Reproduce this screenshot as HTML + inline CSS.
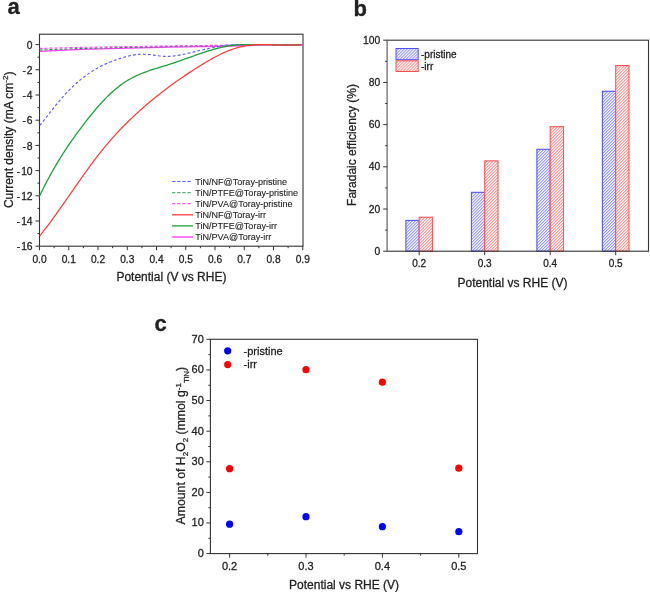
<!DOCTYPE html>
<html><head><meta charset="utf-8"><style>
html,body{margin:0;padding:0;background:#fff;width:650px;height:592px;overflow:hidden}
svg{display:block;font-family:"Liberation Sans", sans-serif;fill:#222;will-change:transform}
text{fill:#222;stroke:#222;stroke-width:0.28px}
</style></head><body>
<svg width="650" height="592" viewBox="0 0 650 592">
<rect x="39.5" y="34.2" width="263.5" height="212.0" fill="none" stroke="#333" stroke-width="1.1"/>
<line x1="35.5" y1="44.60" x2="39.5" y2="44.60" stroke="#333" stroke-width="1"/>
<text x="32.6" y="48.70" font-size="10.3" text-anchor="end" font-weight="normal" >0</text>
<line x1="37.5" y1="57.20" x2="39.5" y2="57.20" stroke="#333" stroke-width="1"/>
<line x1="35.5" y1="69.80" x2="39.5" y2="69.80" stroke="#333" stroke-width="1"/>
<text x="32.6" y="73.90" font-size="10.3" text-anchor="end">-<tspan dx="0.9">2</tspan></text>
<line x1="37.5" y1="82.40" x2="39.5" y2="82.40" stroke="#333" stroke-width="1"/>
<line x1="35.5" y1="95.00" x2="39.5" y2="95.00" stroke="#333" stroke-width="1"/>
<text x="32.6" y="99.10" font-size="10.3" text-anchor="end">-<tspan dx="0.9">4</tspan></text>
<line x1="37.5" y1="107.60" x2="39.5" y2="107.60" stroke="#333" stroke-width="1"/>
<line x1="35.5" y1="120.20" x2="39.5" y2="120.20" stroke="#333" stroke-width="1"/>
<text x="32.6" y="124.30" font-size="10.3" text-anchor="end">-<tspan dx="0.9">6</tspan></text>
<line x1="37.5" y1="132.80" x2="39.5" y2="132.80" stroke="#333" stroke-width="1"/>
<line x1="35.5" y1="145.40" x2="39.5" y2="145.40" stroke="#333" stroke-width="1"/>
<text x="32.6" y="149.50" font-size="10.3" text-anchor="end">-<tspan dx="0.9">8</tspan></text>
<line x1="37.5" y1="158.00" x2="39.5" y2="158.00" stroke="#333" stroke-width="1"/>
<line x1="35.5" y1="170.60" x2="39.5" y2="170.60" stroke="#333" stroke-width="1"/>
<text x="32.6" y="174.70" font-size="10.3" text-anchor="end">-<tspan dx="0.9">10</tspan></text>
<line x1="37.5" y1="183.20" x2="39.5" y2="183.20" stroke="#333" stroke-width="1"/>
<line x1="35.5" y1="195.80" x2="39.5" y2="195.80" stroke="#333" stroke-width="1"/>
<text x="32.6" y="199.90" font-size="10.3" text-anchor="end">-<tspan dx="0.9">12</tspan></text>
<line x1="37.5" y1="208.40" x2="39.5" y2="208.40" stroke="#333" stroke-width="1"/>
<line x1="35.5" y1="221.00" x2="39.5" y2="221.00" stroke="#333" stroke-width="1"/>
<text x="32.6" y="225.10" font-size="10.3" text-anchor="end">-<tspan dx="0.9">14</tspan></text>
<line x1="37.5" y1="233.60" x2="39.5" y2="233.60" stroke="#333" stroke-width="1"/>
<line x1="35.5" y1="246.20" x2="39.5" y2="246.20" stroke="#333" stroke-width="1"/>
<text x="32.6" y="250.30" font-size="10.3" text-anchor="end">-<tspan dx="0.9">16</tspan></text>
<line x1="39.50" y1="246.2" x2="39.50" y2="250.2" stroke="#333" stroke-width="1"/>
<text x="39.50" y="262.6" font-size="10.2" text-anchor="middle" font-weight="normal" >0.0</text>
<line x1="54.12" y1="246.2" x2="54.12" y2="248.2" stroke="#333" stroke-width="1"/>
<line x1="68.75" y1="246.2" x2="68.75" y2="250.2" stroke="#333" stroke-width="1"/>
<text x="68.75" y="262.6" font-size="10.2" text-anchor="middle" font-weight="normal" >0.1</text>
<line x1="83.38" y1="246.2" x2="83.38" y2="248.2" stroke="#333" stroke-width="1"/>
<line x1="98.00" y1="246.2" x2="98.00" y2="250.2" stroke="#333" stroke-width="1"/>
<text x="98.00" y="262.6" font-size="10.2" text-anchor="middle" font-weight="normal" >0.2</text>
<line x1="112.62" y1="246.2" x2="112.62" y2="248.2" stroke="#333" stroke-width="1"/>
<line x1="127.25" y1="246.2" x2="127.25" y2="250.2" stroke="#333" stroke-width="1"/>
<text x="127.25" y="262.6" font-size="10.2" text-anchor="middle" font-weight="normal" >0.3</text>
<line x1="141.88" y1="246.2" x2="141.88" y2="248.2" stroke="#333" stroke-width="1"/>
<line x1="156.50" y1="246.2" x2="156.50" y2="250.2" stroke="#333" stroke-width="1"/>
<text x="156.50" y="262.6" font-size="10.2" text-anchor="middle" font-weight="normal" >0.4</text>
<line x1="171.12" y1="246.2" x2="171.12" y2="248.2" stroke="#333" stroke-width="1"/>
<line x1="185.75" y1="246.2" x2="185.75" y2="250.2" stroke="#333" stroke-width="1"/>
<text x="185.75" y="262.6" font-size="10.2" text-anchor="middle" font-weight="normal" >0.5</text>
<line x1="200.38" y1="246.2" x2="200.38" y2="248.2" stroke="#333" stroke-width="1"/>
<line x1="215.00" y1="246.2" x2="215.00" y2="250.2" stroke="#333" stroke-width="1"/>
<text x="215.00" y="262.6" font-size="10.2" text-anchor="middle" font-weight="normal" >0.6</text>
<line x1="229.62" y1="246.2" x2="229.62" y2="248.2" stroke="#333" stroke-width="1"/>
<line x1="244.25" y1="246.2" x2="244.25" y2="250.2" stroke="#333" stroke-width="1"/>
<text x="244.25" y="262.6" font-size="10.2" text-anchor="middle" font-weight="normal" >0.7</text>
<line x1="258.88" y1="246.2" x2="258.88" y2="248.2" stroke="#333" stroke-width="1"/>
<line x1="273.50" y1="246.2" x2="273.50" y2="250.2" stroke="#333" stroke-width="1"/>
<text x="273.50" y="262.6" font-size="10.2" text-anchor="middle" font-weight="normal" >0.8</text>
<line x1="288.12" y1="246.2" x2="288.12" y2="248.2" stroke="#333" stroke-width="1"/>
<line x1="302.75" y1="246.2" x2="302.75" y2="250.2" stroke="#333" stroke-width="1"/>
<text x="302.75" y="262.6" font-size="10.2" text-anchor="middle" font-weight="normal" >0.9</text>
<text x="171.4" y="281.2" font-size="12" text-anchor="middle" font-weight="normal" >Potential (V vs RHE)</text>
<text transform="translate(12.8,139.8) rotate(-90)" font-size="12" text-anchor="middle">Current density (mA cm<tspan font-size="8" dy="-4.5">-2</tspan><tspan dy="4.5">)</tspan></text>
<text x="7.5" y="14.3" font-size="22" text-anchor="start" font-weight="bold" >a</text>
<g fill="none">
<path d="M39.60,51.40 C48.00,51.02 68.27,49.80 90.00,49.10 C111.73,48.40 148.50,47.65 170.00,47.20 C191.50,46.75 205.67,46.68 219.00,46.40 C232.33,46.12 242.33,45.75 250.00,45.50 C257.67,45.25 256.17,45.03 265.00,44.90 C273.83,44.77 296.67,44.73 303.00,44.70" stroke="#ff3cff" stroke-width="1.3"/>
<path d="M39.60,50.00 C48.00,49.72 68.27,48.88 90.00,48.30 C111.73,47.72 147.50,46.98 170.00,46.50 C192.50,46.02 211.67,45.68 225.00,45.40 C238.33,45.12 237.00,44.92 250.00,44.80 C263.00,44.68 294.17,44.72 303.00,44.70" stroke="#2f8f4f" stroke-width="1.1" stroke-dasharray="3,2"/>
<path d="M39.60,48.40 C48.00,48.20 68.27,47.60 90.00,47.20 C111.73,46.80 147.50,46.33 170.00,46.00 C192.50,45.67 211.67,45.40 225.00,45.20 C238.33,45.00 237.00,44.88 250.00,44.80 C263.00,44.72 294.17,44.72 303.00,44.70" stroke="#ff44ff" stroke-width="1.1" stroke-dasharray="3,2"/>
<path d="M39.80,125.49 L41.30,123.62 L42.80,121.74 L44.30,119.83 L45.80,117.92 L47.30,116.01 L48.80,114.09 L50.30,112.17 L51.80,110.27 L53.30,108.37 L54.80,106.50 L56.30,104.65 L57.80,102.82 L59.30,101.03 L60.80,99.27 L62.30,97.55 L63.80,95.87 L65.30,94.23 L66.80,92.62 L68.30,91.06 L69.80,89.53 L71.30,88.04 L72.80,86.59 L74.30,85.18 L75.80,83.80 L77.30,82.46 L78.80,81.16 L80.30,79.90 L81.80,78.67 L83.30,77.49 L84.80,76.33 L86.30,75.22 L87.80,74.14 L89.30,73.10 L90.80,72.09 L92.30,71.13 L93.80,70.19 L95.30,69.29 L96.80,68.42 L98.30,67.59 L99.80,66.79 L101.30,66.01 L102.80,65.27 L104.30,64.55 L105.80,63.86 L107.30,63.19 L108.80,62.55 L110.30,61.94 L111.80,61.34 L113.30,60.77 L114.80,60.22 L116.30,59.69 L117.80,59.18 L119.30,58.68 L120.80,58.21 L122.30,57.75 L123.80,57.30 L125.30,56.88 L126.80,56.49 L128.30,56.12 L129.80,55.77 L131.30,55.45 L132.80,55.17 L134.30,54.91 L135.80,54.69 L137.30,54.51 L138.80,54.37 L140.30,54.26 L141.80,54.20 L143.30,54.18 L144.80,54.20 L146.30,54.28 L147.80,54.39 L149.30,54.54 L150.80,54.72 L152.30,54.91 L153.80,55.12 L155.30,55.34 L156.80,55.55 L158.30,55.76 L159.80,55.95 L161.30,56.11 L162.80,56.25 L164.30,56.35 L165.80,56.40 L167.30,56.41 L168.80,56.37 L170.30,56.29 L171.80,56.18 L173.30,56.03 L174.80,55.85 L176.30,55.64 L177.80,55.40 L179.30,55.15 L180.80,54.87 L182.30,54.57 L183.80,54.26 L185.30,53.94 L186.80,53.61 L188.30,53.28 L189.80,52.93 L191.30,52.58 L192.80,52.23 L194.30,51.87 L195.80,51.52 L197.30,51.16 L198.80,50.80 L200.30,50.44 L201.80,50.09 L203.30,49.73 L204.80,49.39 L206.30,49.04 L207.80,48.71 L209.30,48.38 L210.80,48.06 L212.30,47.76 L213.80,47.46 L215.30,47.17 L216.80,46.90 L218.30,46.64 L219.80,46.40 L221.30,46.18 L222.80,45.97 L224.30,45.78 L225.80,45.60 L227.30,45.43 L228.80,45.29 L230.30,45.15 L231.80,45.03 L233.30,44.92 L234.80,44.82 L236.30,44.74 L237.80,44.70 L239.30,44.70 L240.80,44.70 L242.30,44.70 L243.80,44.70 L245.30,44.70 L246.80,44.70 L248.30,44.70 L249.80,44.70 L251.30,44.70 L252.80,44.70 L254.30,44.70 L255.80,44.70 L257.30,44.70 L258.80,44.70 L260.30,44.70 L261.80,44.70 L263.30,44.70 L264.80,44.70 L266.30,44.70 L267.80,44.71 L269.30,44.75 L270.80,44.79 L272.30,44.83 L273.80,44.87 L275.30,44.90 L276.80,44.94 L278.30,44.97 L279.80,44.99 L281.30,45.02 L282.80,45.04 L284.30,45.05 L285.80,45.06 L287.30,45.06 L288.80,45.06 L290.30,45.05 L291.80,45.03 L293.30,45.01 L294.80,44.97 L296.30,44.93 L297.80,44.88 L299.30,44.81 L300.80,44.74 L302.30,44.70" stroke="#5a5aff" stroke-width="1.15" stroke-dasharray="2.8,2.2"/>
<path d="M39.60,195.96 L41.10,192.84 L42.60,189.79 L44.10,186.81 L45.60,183.88 L47.10,181.01 L48.60,178.19 L50.10,175.43 L51.60,172.73 L53.10,170.07 L54.60,167.46 L56.10,164.90 L57.60,162.39 L59.10,159.92 L60.60,157.50 L62.10,155.11 L63.60,152.76 L65.10,150.46 L66.60,148.18 L68.10,145.94 L69.60,143.74 L71.10,141.56 L72.60,139.42 L74.10,137.30 L75.60,135.20 L77.10,133.13 L78.60,131.09 L80.10,129.06 L81.60,127.05 L83.10,125.07 L84.60,123.10 L86.10,121.16 L87.60,119.24 L89.10,117.34 L90.60,115.47 L92.10,113.63 L93.60,111.81 L95.10,110.03 L96.60,108.27 L98.10,106.54 L99.60,104.85 L101.10,103.19 L102.60,101.57 L104.10,99.98 L105.60,98.42 L107.10,96.91 L108.60,95.43 L110.10,93.99 L111.60,92.59 L113.10,91.24 L114.60,89.93 L116.10,88.66 L117.60,87.44 L119.10,86.26 L120.60,85.13 L122.10,84.05 L123.60,83.01 L125.10,82.02 L126.60,81.07 L128.10,80.16 L129.60,79.29 L131.10,78.46 L132.60,77.66 L134.10,76.89 L135.60,76.16 L137.10,75.46 L138.60,74.78 L140.10,74.14 L141.60,73.51 L143.10,72.91 L144.60,72.34 L146.10,71.78 L147.60,71.24 L149.10,70.71 L150.60,70.20 L152.10,69.71 L153.60,69.22 L155.10,68.75 L156.60,68.28 L158.10,67.82 L159.60,67.36 L161.10,66.90 L162.60,66.45 L164.10,65.99 L165.60,65.53 L167.10,65.07 L168.60,64.60 L170.10,64.13 L171.60,63.64 L173.10,63.15 L174.60,62.64 L176.10,62.13 L177.60,61.62 L179.10,61.10 L180.60,60.57 L182.10,60.04 L183.60,59.51 L185.10,58.98 L186.60,58.44 L188.10,57.90 L189.60,57.37 L191.10,56.83 L192.60,56.30 L194.10,55.76 L195.60,55.23 L197.10,54.71 L198.60,54.19 L200.10,53.67 L201.60,53.16 L203.10,52.66 L204.60,52.17 L206.10,51.68 L207.60,51.21 L209.10,50.74 L210.60,50.29 L212.10,49.84 L213.60,49.41 L215.10,48.99 L216.60,48.59 L218.10,48.20 L219.60,47.83 L221.10,47.47 L222.60,47.13 L224.10,46.81 L225.60,46.51 L227.10,46.23 L228.60,45.96 L230.10,45.72 L231.60,45.50 L233.10,45.30 L234.60,45.12 L236.10,44.96 L237.60,44.82 L239.10,44.70 L240.60,44.70 L242.10,44.70 L243.60,44.70 L245.10,44.70 L246.60,44.70 L248.10,44.70 L249.60,44.70 L251.10,44.70 L252.60,44.70 L254.10,44.70 L255.60,44.70 L257.10,44.70 L258.60,44.70 L260.10,44.70 L261.60,44.70 L263.10,44.70 L264.60,44.70 L266.10,44.70 L267.60,44.70 L269.10,44.70 L270.60,44.72 L272.10,44.78 L273.60,44.83 L275.10,44.89 L276.60,44.94 L278.10,44.98 L279.60,45.02 L281.10,45.06 L282.60,45.09 L284.10,45.11 L285.60,45.13 L287.10,45.13 L288.60,45.13 L290.10,45.12 L291.60,45.09 L293.10,45.06 L294.60,45.01 L296.10,44.94 L297.60,44.87 L299.10,44.77 L300.60,44.70 L302.10,44.70" stroke="#22a03c" stroke-width="1.3"/>
<path d="M39.70,235.94 L41.20,234.06 L42.70,232.16 L44.20,230.23 L45.70,228.28 L47.20,226.31 L48.70,224.31 L50.20,222.29 L51.70,220.26 L53.20,218.20 L54.70,216.13 L56.20,214.05 L57.70,211.95 L59.20,209.84 L60.70,207.71 L62.20,205.58 L63.70,203.44 L65.20,201.30 L66.70,199.15 L68.20,196.99 L69.70,194.83 L71.20,192.68 L72.70,190.52 L74.20,188.36 L75.70,186.21 L77.20,184.06 L78.70,181.91 L80.20,179.78 L81.70,177.65 L83.20,175.53 L84.70,173.43 L86.20,171.33 L87.70,169.26 L89.20,167.19 L90.70,165.15 L92.20,163.12 L93.70,161.11 L95.20,159.12 L96.70,157.16 L98.20,155.22 L99.70,153.30 L101.20,151.41 L102.70,149.55 L104.20,147.71 L105.70,145.90 L107.20,144.11 L108.70,142.35 L110.20,140.62 L111.70,138.90 L113.20,137.21 L114.70,135.55 L116.20,133.90 L117.70,132.28 L119.20,130.68 L120.70,129.10 L122.20,127.54 L123.70,126.00 L125.20,124.48 L126.70,122.98 L128.20,121.50 L129.70,120.04 L131.20,118.60 L132.70,117.17 L134.20,115.76 L135.70,114.36 L137.20,112.99 L138.70,111.63 L140.20,110.28 L141.70,108.95 L143.20,107.63 L144.70,106.32 L146.20,105.03 L147.70,103.75 L149.20,102.49 L150.70,101.23 L152.20,99.99 L153.70,98.76 L155.20,97.54 L156.70,96.34 L158.20,95.14 L159.70,93.95 L161.20,92.78 L162.70,91.62 L164.20,90.46 L165.70,89.32 L167.20,88.19 L168.70,87.07 L170.20,85.95 L171.70,84.85 L173.20,83.76 L174.70,82.68 L176.20,81.61 L177.70,80.55 L179.20,79.50 L180.70,78.45 L182.20,77.42 L183.70,76.40 L185.20,75.38 L186.70,74.38 L188.20,73.38 L189.70,72.39 L191.20,71.41 L192.70,70.44 L194.20,69.48 L195.70,68.52 L197.20,67.57 L198.70,66.64 L200.20,65.71 L201.70,64.78 L203.20,63.87 L204.70,62.97 L206.20,62.07 L207.70,61.19 L209.20,60.33 L210.70,59.47 L212.20,58.63 L213.70,57.81 L215.20,57.01 L216.70,56.22 L218.20,55.45 L219.70,54.70 L221.20,53.97 L222.70,53.26 L224.20,52.58 L225.70,51.92 L227.20,51.29 L228.70,50.68 L230.20,50.10 L231.70,49.54 L233.20,49.02 L234.70,48.52 L236.20,48.06 L237.70,47.62 L239.20,47.22 L240.70,46.86 L242.20,46.52 L243.70,46.22 L245.20,45.95 L246.70,45.71 L248.20,45.50 L249.70,45.31 L251.20,45.15 L252.70,45.02 L254.20,44.90 L255.70,44.81 L257.20,44.74 L258.70,44.70 L260.20,44.70 L261.70,44.70 L263.20,44.70 L264.70,44.70 L266.20,44.70 L267.70,44.70 L269.20,44.70 L270.70,44.72 L272.20,44.77 L273.70,44.81 L275.20,44.86 L276.70,44.92 L278.20,44.97 L279.70,45.02 L281.20,45.07 L282.70,45.11 L284.20,45.15 L285.70,45.18 L287.20,45.20 L288.70,45.21 L290.20,45.21 L291.70,45.20 L293.20,45.17 L294.70,45.13 L296.20,45.07 L297.70,44.99 L299.20,44.89 L300.70,44.77 L302.20,44.70" stroke="#ff3c3c" stroke-width="1.25"/>
</g>
<line x1="172.1" y1="181.50" x2="191.5" y2="181.50" stroke="#5a5aff" stroke-width="1.2" stroke-dasharray="3.3,1.8"/>
<text x="195.3" y="184.70" font-size="9.05" text-anchor="start" font-weight="normal" style="stroke-width:0.1px">TiN/NF@Toray-pristine</text>
<line x1="172.1" y1="192.60" x2="191.5" y2="192.60" stroke="#55b075" stroke-width="1.2" stroke-dasharray="3.3,1.8"/>
<text x="195.3" y="195.80" font-size="9.05" text-anchor="start" font-weight="normal" style="stroke-width:0.1px">TiN/PTFE@Toray-pristine</text>
<line x1="172.1" y1="203.70" x2="191.5" y2="203.70" stroke="#ff5cff" stroke-width="1.2" stroke-dasharray="3.3,1.8"/>
<text x="195.3" y="206.90" font-size="9.05" text-anchor="start" font-weight="normal" style="stroke-width:0.1px">TiN/PVA@Toray-pristine</text>
<line x1="172.1" y1="214.80" x2="193" y2="214.80" stroke="#ff4a4a" stroke-width="1.4" />
<text x="195.3" y="218.00" font-size="9.05" text-anchor="start" font-weight="normal" style="stroke-width:0.1px">TiN/NF@Toray-irr</text>
<line x1="172.1" y1="225.90" x2="193" y2="225.90" stroke="#2aa545" stroke-width="1.4" />
<text x="195.3" y="229.10" font-size="9.05" text-anchor="start" font-weight="normal" style="stroke-width:0.1px">TiN/PTFE@Toray-irr</text>
<line x1="172.1" y1="237.00" x2="193" y2="237.00" stroke="#ff44ff" stroke-width="1.4" />
<text x="195.3" y="240.20" font-size="9.05" text-anchor="start" font-weight="normal" style="stroke-width:0.1px">TiN/PVA@Toray-irr</text>
<defs><pattern id="hb" patternUnits="userSpaceOnUse" width="2.12" height="4" patternTransform="rotate(45)"><rect width="2.12" height="4" fill="#f6f6ff"/><rect width="1.0" height="4" fill="#9999ff"/></pattern><pattern id="hr" patternUnits="userSpaceOnUse" width="2.12" height="4" patternTransform="rotate(45)"><rect width="2.12" height="4" fill="#fff6f6"/><rect width="1.0" height="4" fill="#ff9999"/></pattern></defs>
<rect x="405.90" y="220.39" width="13.3" height="30.81" fill="url(#hb)" stroke="#5555ff" stroke-width="1.1"/>
<rect x="419.20" y="217.23" width="13.3" height="33.97" fill="url(#hr)" stroke="#ff5555" stroke-width="1.1"/>
<line x1="419.20" y1="251.2" x2="419.20" y2="255.2" stroke="#333" stroke-width="1"/>
<text x="419.20" y="267.3" font-size="10" text-anchor="middle" font-weight="normal" >0.2</text>
<rect x="471.40" y="192.33" width="13.3" height="58.87" fill="url(#hb)" stroke="#5555ff" stroke-width="1.1"/>
<rect x="484.70" y="160.89" width="13.3" height="90.31" fill="url(#hr)" stroke="#ff5555" stroke-width="1.1"/>
<line x1="484.70" y1="251.2" x2="484.70" y2="255.2" stroke="#333" stroke-width="1"/>
<text x="484.70" y="267.3" font-size="10" text-anchor="middle" font-weight="normal" >0.3</text>
<rect x="536.90" y="149.29" width="13.3" height="101.91" fill="url(#hb)" stroke="#5555ff" stroke-width="1.1"/>
<rect x="550.20" y="126.71" width="13.3" height="124.49" fill="url(#hr)" stroke="#ff5555" stroke-width="1.1"/>
<line x1="550.20" y1="251.2" x2="550.20" y2="255.2" stroke="#333" stroke-width="1"/>
<text x="550.20" y="267.3" font-size="10" text-anchor="middle" font-weight="normal" >0.4</text>
<rect x="602.40" y="91.26" width="13.3" height="159.94" fill="url(#hb)" stroke="#5555ff" stroke-width="1.1"/>
<rect x="615.70" y="65.52" width="13.3" height="185.68" fill="url(#hr)" stroke="#ff5555" stroke-width="1.1"/>
<line x1="615.70" y1="251.2" x2="615.70" y2="255.2" stroke="#333" stroke-width="1"/>
<text x="615.70" y="267.3" font-size="10" text-anchor="middle" font-weight="normal" >0.5</text>
<rect x="387.2" y="40.2" width="261.3" height="211.0" fill="none" stroke="#333" stroke-width="1.1"/>
<line x1="387.2" y1="40.800000000000004" x2="387.2" y2="250.6" stroke="#ffffff" stroke-width="1.6"/>
<line x1="387.2" y1="40.7" x2="387.2" y2="250.7" stroke="#7a7a7a" stroke-width="1.3"/>
<line x1="383.2" y1="251.20" x2="387.2" y2="251.20" stroke="#333" stroke-width="1"/>
<text x="380.3" y="254.80" font-size="10.3" text-anchor="end" font-weight="normal" >0</text>
<line x1="385.2" y1="230.10" x2="387.2" y2="230.10" stroke="#333" stroke-width="1"/>
<line x1="383.2" y1="209.00" x2="387.2" y2="209.00" stroke="#333" stroke-width="1"/>
<text x="380.3" y="212.60" font-size="10.3" text-anchor="end" font-weight="normal" >20</text>
<line x1="385.2" y1="187.90" x2="387.2" y2="187.90" stroke="#333" stroke-width="1"/>
<line x1="383.2" y1="166.80" x2="387.2" y2="166.80" stroke="#333" stroke-width="1"/>
<text x="380.3" y="170.40" font-size="10.3" text-anchor="end" font-weight="normal" >40</text>
<line x1="385.2" y1="145.70" x2="387.2" y2="145.70" stroke="#333" stroke-width="1"/>
<line x1="383.2" y1="124.60" x2="387.2" y2="124.60" stroke="#333" stroke-width="1"/>
<text x="380.3" y="128.20" font-size="10.3" text-anchor="end" font-weight="normal" >60</text>
<line x1="385.2" y1="103.50" x2="387.2" y2="103.50" stroke="#333" stroke-width="1"/>
<line x1="383.2" y1="82.40" x2="387.2" y2="82.40" stroke="#333" stroke-width="1"/>
<text x="380.3" y="86.00" font-size="10.3" text-anchor="end" font-weight="normal" >80</text>
<line x1="385.2" y1="61.30" x2="387.2" y2="61.30" stroke="#333" stroke-width="1"/>
<line x1="383.2" y1="40.20" x2="387.2" y2="40.20" stroke="#333" stroke-width="1"/>
<text x="380.3" y="43.80" font-size="10.3" text-anchor="end" font-weight="normal" >100</text>
<text x="512.5" y="286.5" font-size="12" text-anchor="middle" font-weight="normal" >Potential vs RHE (V)</text>
<text transform="translate(355.5,145) rotate(-90)" font-size="12" text-anchor="middle">Faradaic efficiency (%)</text>
<text x="353.6" y="15.9" font-size="22" text-anchor="start" font-weight="bold" >b</text>
<rect x="396" y="48.5" width="22.2" height="11.2" fill="url(#hb)" stroke="#4d4dff" stroke-width="1"/>
<rect x="396" y="60.8" width="22.2" height="10.7" fill="url(#hr)" stroke="#ff4d4d" stroke-width="1"/>
<text x="421" y="57.8" font-size="10" text-anchor="start" font-weight="normal" >-pristine</text>
<text x="421" y="70.1" font-size="10" text-anchor="start" font-weight="normal" >-irr</text>
<rect x="210.4" y="339.3" width="267.1" height="214.3" fill="none" stroke="#333" stroke-width="1.1"/>
<line x1="206.4" y1="553.60" x2="210.4" y2="553.60" stroke="#333" stroke-width="1"/>
<text x="203.8" y="557.00" font-size="11" text-anchor="end" font-weight="normal" >0</text>
<line x1="208.4" y1="538.30" x2="210.4" y2="538.30" stroke="#333" stroke-width="1"/>
<line x1="206.4" y1="522.99" x2="210.4" y2="522.99" stroke="#333" stroke-width="1"/>
<text x="203.8" y="526.39" font-size="11" text-anchor="end" font-weight="normal" >10</text>
<line x1="208.4" y1="507.69" x2="210.4" y2="507.69" stroke="#333" stroke-width="1"/>
<line x1="206.4" y1="492.38" x2="210.4" y2="492.38" stroke="#333" stroke-width="1"/>
<text x="203.8" y="495.78" font-size="11" text-anchor="end" font-weight="normal" >20</text>
<line x1="208.4" y1="477.08" x2="210.4" y2="477.08" stroke="#333" stroke-width="1"/>
<line x1="206.4" y1="461.77" x2="210.4" y2="461.77" stroke="#333" stroke-width="1"/>
<text x="203.8" y="465.17" font-size="11" text-anchor="end" font-weight="normal" >30</text>
<line x1="208.4" y1="446.47" x2="210.4" y2="446.47" stroke="#333" stroke-width="1"/>
<line x1="206.4" y1="431.16" x2="210.4" y2="431.16" stroke="#333" stroke-width="1"/>
<text x="203.8" y="434.56" font-size="11" text-anchor="end" font-weight="normal" >40</text>
<line x1="208.4" y1="415.86" x2="210.4" y2="415.86" stroke="#333" stroke-width="1"/>
<line x1="206.4" y1="400.55" x2="210.4" y2="400.55" stroke="#333" stroke-width="1"/>
<text x="203.8" y="403.95" font-size="11" text-anchor="end" font-weight="normal" >50</text>
<line x1="208.4" y1="385.25" x2="210.4" y2="385.25" stroke="#333" stroke-width="1"/>
<line x1="206.4" y1="369.94" x2="210.4" y2="369.94" stroke="#333" stroke-width="1"/>
<text x="203.8" y="373.34" font-size="11" text-anchor="end" font-weight="normal" >60</text>
<line x1="208.4" y1="354.63" x2="210.4" y2="354.63" stroke="#333" stroke-width="1"/>
<line x1="206.4" y1="339.33" x2="210.4" y2="339.33" stroke="#333" stroke-width="1"/>
<text x="203.8" y="342.73" font-size="11" text-anchor="end" font-weight="normal" >70</text>
<line x1="229.60" y1="553.6" x2="229.60" y2="557.6" stroke="#333" stroke-width="1"/>
<text x="229.60" y="570.0" font-size="11" text-anchor="middle" font-weight="normal" >0.2</text>
<line x1="267.80" y1="553.6" x2="267.80" y2="555.6" stroke="#333" stroke-width="1"/>
<line x1="306.00" y1="553.6" x2="306.00" y2="557.6" stroke="#333" stroke-width="1"/>
<text x="306.00" y="570.0" font-size="11" text-anchor="middle" font-weight="normal" >0.3</text>
<line x1="344.20" y1="553.6" x2="344.20" y2="555.6" stroke="#333" stroke-width="1"/>
<line x1="382.40" y1="553.6" x2="382.40" y2="557.6" stroke="#333" stroke-width="1"/>
<text x="382.40" y="570.0" font-size="11" text-anchor="middle" font-weight="normal" >0.4</text>
<line x1="420.60" y1="553.6" x2="420.60" y2="555.6" stroke="#333" stroke-width="1"/>
<line x1="458.80" y1="553.6" x2="458.80" y2="557.6" stroke="#333" stroke-width="1"/>
<text x="458.80" y="570.0" font-size="11" text-anchor="middle" font-weight="normal" >0.5</text>
<text x="344.1" y="589.2" font-size="12" text-anchor="middle" font-weight="normal" >Potential vs RHE (V)</text>
<text transform="translate(185,445.6) rotate(-90)" font-size="12.25" text-anchor="middle">Amount of H<tspan font-size="8" dy="3">2</tspan><tspan dy="-3">O</tspan><tspan font-size="8" dy="3">2</tspan><tspan dy="-3"> (mmol g</tspan><tspan font-size="8" dy="-4.5">-1</tspan><tspan font-size="8" dy="8">TiN</tspan><tspan dy="-3.5">)</tspan></text>
<text x="154.5" y="330.5" font-size="22" text-anchor="start" font-weight="bold" >c</text>
<circle cx="229.60" cy="468.66" r="3.6" fill="#ff0000"/>
<circle cx="229.60" cy="524.21" r="3.6" fill="#0000ff"/>
<circle cx="306.00" cy="369.63" r="3.6" fill="#ff0000"/>
<circle cx="306.00" cy="516.71" r="3.6" fill="#0000ff"/>
<circle cx="382.40" cy="382.18" r="3.6" fill="#ff0000"/>
<circle cx="382.40" cy="526.66" r="3.6" fill="#0000ff"/>
<circle cx="458.80" cy="468.20" r="3.6" fill="#ff0000"/>
<circle cx="458.80" cy="531.68" r="3.6" fill="#0000ff"/>
<circle cx="227.7" cy="350.8" r="3.6" fill="#0000ff"/>
<circle cx="227.7" cy="364.6" r="3.6" fill="#ff0000"/>
<text x="243.6" y="354.5" font-size="11" text-anchor="start" font-weight="normal" >-pristine</text>
<text x="243.6" y="368.4" font-size="11" text-anchor="start" font-weight="normal" >-irr</text>
</svg></body></html>
